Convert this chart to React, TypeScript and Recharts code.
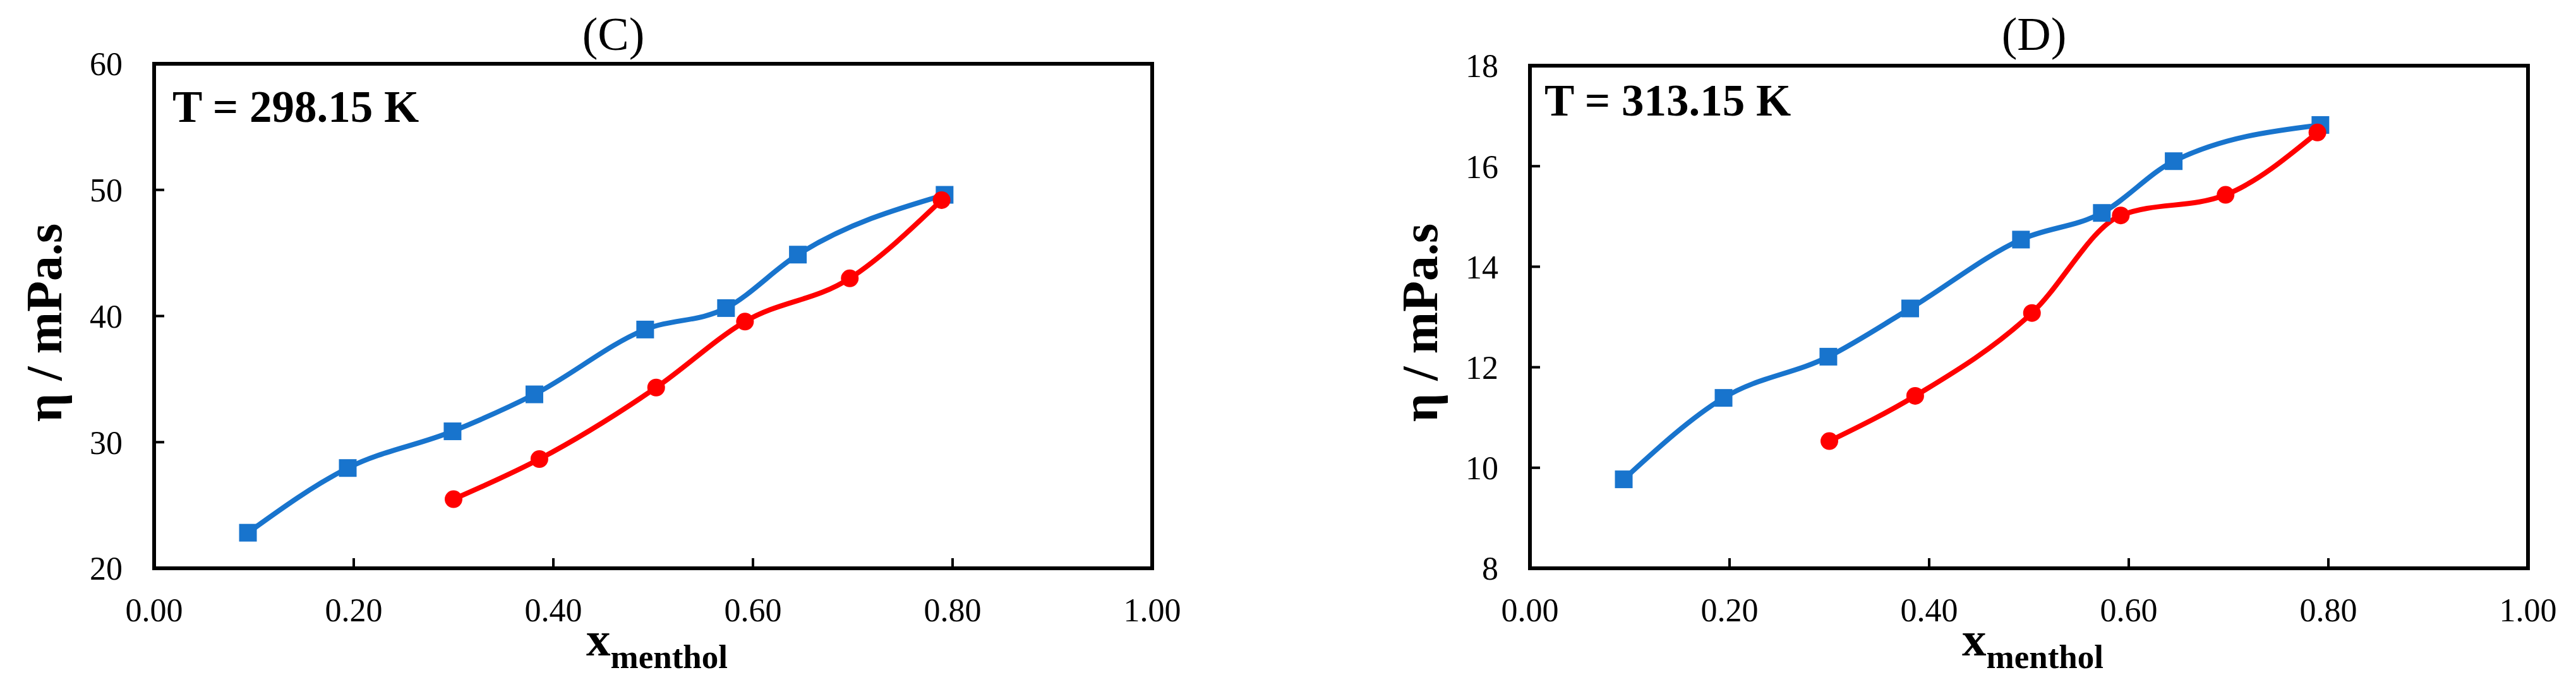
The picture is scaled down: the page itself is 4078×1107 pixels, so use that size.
import React from 'react'
import { LineChart, Line, XAxis, YAxis, ReferenceArea } from 'recharts'

// mole fraction of menthol
const blueX = [0.094, 0.194, 0.299, 0.381, 0.492, 0.573, 0.645, 0.792]
const redX = [0.3, 0.386, 0.503, 0.592, 0.697, 0.789]

// viscosity, 298.15 K
const blueC = [22.82, 27.95, 30.86, 33.79, 38.93, 40.63, 44.87, 49.61]
const redC = [25.48, 28.66, 34.33, 39.56, 42.99, 49.19]

// viscosity, 313.15 K
const blueD = [9.77, 11.39, 12.21, 13.17, 14.54, 15.07, 16.1, 16.82]
const redD = [10.53, 11.43, 13.08, 15.02, 15.43, 16.67]

const xTicks = [0, 0.2, 0.4, 0.6, 0.8, 1.0]
const yTicksC = [20, 30, 40, 50, 60]
const yTicksD = [8, 10, 12, 14, 16, 18]

const FONT = "'Liberation Serif', 'Times New Roman', serif"
const BLUE = '#1874CD'
const RED = '#FF0000'
const H = 1107

const toRows = (xs: number[], ys: number[]) => xs.map((x, i) => ({ x, y: ys[i] }))

function Square(props: any) {
  const { cx, cy, index } = props
  if (cx == null || cy == null) return <g key={`s-${index}`} />
  return <rect key={`s-${index}`} x={cx - 14} y={cy - 14} width={28} height={28} fill={BLUE} />
}

function Circle(props: any) {
  const { cx, cy, index } = props
  if (cx == null || cy == null) return <g key={`c-${index}`} />
  return <circle key={`c-${index}`} cx={cx} cy={cy} r={14} fill={RED} />
}

interface PanelProps {
  left: number
  width: number
  plotLeft: number
  plotRight: number
  plotTop: number
  yTicks: number[]
  blue: number[]
  red: number[]
  title: string
  titleX: number
  temp: string
  tempX: number
  tempY: number
}

function Panel(p: PanelProps) {
  const plotBottom = 900
  const yDomain = [p.yTicks[0], p.yTicks[p.yTicks.length - 1]]
  const plotCenterX = (p.plotLeft + p.plotRight) / 2
  return (
    <div style={{ position: 'absolute', left: p.left, top: 0, width: p.width, height: H }}>
      <LineChart
        width={p.width}
        height={H}
        margin={{ top: p.plotTop, right: p.width - p.plotRight, left: 0, bottom: 0 }}
      >
        <XAxis
          type="number"
          dataKey="x"
          domain={[0, 1]}
          ticks={xTicks}
          tickFormatter={(v) => Number(v).toFixed(2)}
          axisLine={false}
          tickSize={-16}
          tickMargin={63}
          tickLine={{ stroke: '#000', strokeWidth: 4 }}
          tick={{ fill: '#000', fontSize: 52, fontFamily: FONT }}
          height={H - plotBottom}
          interval={0}
        />
        <YAxis
          type="number"
          domain={yDomain}
          ticks={p.yTicks}
          width={p.plotLeft}
          axisLine={false}
          tickSize={-16}
          tickMargin={66}
          tickLine={{ stroke: '#000', strokeWidth: 4 }}
          tick={{ fill: '#000', fontSize: 52, fontFamily: FONT }}
          interval={0}
        />
        <ReferenceArea
          x1={0}
          x2={1}
          y1={yDomain[0]}
          y2={yDomain[1]}
          fill="none"
          stroke="#000"
          strokeWidth={6}
          ifOverflow="visible"
        />
        <Line
          data={toRows(blueX, p.blue)}
          dataKey="y"
          type="monotone"
          stroke={BLUE}
          strokeWidth={8}
          dot={Square}
          activeDot={false}
          isAnimationActive={false}
        />
        <Line
          data={toRows(redX, p.red)}
          dataKey="y"
          type="monotone"
          stroke={RED}
          strokeWidth={8}
          dot={Circle}
          activeDot={false}
          isAnimationActive={false}
        />
        <text x={p.titleX} y={79} textAnchor="middle" fontFamily={FONT} fontSize={74} fill="#000">
          {p.title}
        </text>
        <text x={p.tempX} y={p.tempY} fontFamily={FONT} fontSize={71} fontWeight="bold" fill="#000">
          {p.temp}
        </text>
        <text
          x={p.plotLeft - 147}
          y={511}
          transform={`rotate(-90 ${p.plotLeft - 147} 511)`}
          textAnchor="middle"
          fontFamily={FONT}
          fontSize={80}
          fontWeight="bold"
          fill="#000"
        >
          η / mPa.s
        </text>
        <text x={plotCenterX + 6} y={1038} textAnchor="middle" fontFamily={FONT} fontWeight="bold" fill="#000">
          <tspan fontSize={77}>x</tspan>
          <tspan fontSize={53} dy={20}>menthol</tspan>
        </text>
      </LineChart>
    </div>
  )
}

export default function App() {
  return (
    <div style={{ position: 'absolute', left: 0, top: 0, width: 4078, height: H, background: '#fff' }}>
      <Panel
        left={0}
        width={2000}
        plotLeft={244}
        plotRight={1824}
        plotTop={101}
        yTicks={yTicksC}
        blue={blueC}
        red={redC}
        title="(C)"
        titleX={971}
        temp="T = 298.15 K"
        tempX={273}
        tempY={193}
      />
      <Panel
        left={2100}
        width={1978}
        plotLeft={322}
        plotRight={1902}
        plotTop={104}
        yTicks={yTicksD}
        blue={blueD}
        red={redD}
        title="(D)"
        titleX={1120}
        temp="T = 313.15 K"
        tempX={345}
        tempY={183}
      />
    </div>
  )
}
